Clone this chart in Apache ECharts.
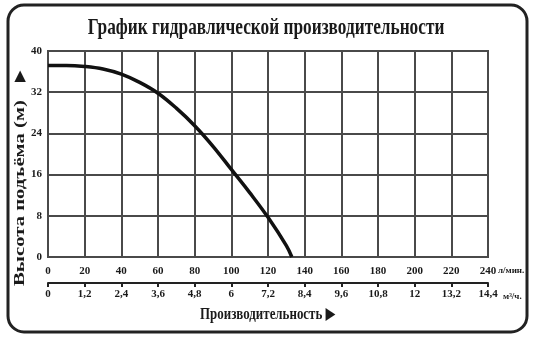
<!DOCTYPE html>
<html><head><meta charset="utf-8">
<script src="https://cdn.jsdelivr.net/npm/echarts@6/dist/echarts.min.js"></script>
<style>html,body{margin:0;padding:0;background:#fff}#c{width:534px;height:344px}</style>
</head><body><div id="c"></div>
<script>
// Data
const titleText = 'График гидравлической производительности';
const yAxisTitle = 'Высота подъёма (м)';
const xAxisTitle = 'Производительность';
const unitLpm = 'л/мин.';
const unitM3h = 'м³/ч.';
const flowLpm = [0, 10, 20, 30, 40, 50, 60, 70, 80, 90, 100, 110, 120, 130, 133];
const headM   = [37.2, 37.2, 37.0, 36.5, 35.5, 33.9, 31.8, 28.9, 25.5, 21.5, 17.0, 12.5, 7.7, 2.2, 0];
const lpmTicks = [0, 20, 40, 60, 80, 100, 120, 140, 160, 180, 200, 220, 240];
const m3hTicks = ['0', '1,2', '2,4', '3,6', '4,8', '6', '7,2', '8,4', '9,6', '10,8', '12', '13,2', '14,4'];
const headTicks = [0, 8, 16, 24, 32, 40];

const FONT = '"Liberation Serif", "DejaVu Serif", serif';
const INK = '#1a1a1a';
const GRID = '#4a4a4a';

const chart = echarts.init(document.getElementById('c'), null, {renderer: 'canvas'});
const lblStyle = {fontFamily: FONT, fontWeight: 'bold', fontSize: 11, color: INK};

chart.setOption({
  backgroundColor: '#ffffff',
  animation: false,
  grid: {left: 48, right: 46, top: 51, bottom: 87, show: true, borderColor: GRID, borderWidth: 2},
  xAxis: [
    {
      type: 'value', min: lpmTicks[0], max: lpmTicks[lpmTicks.length - 1], interval: lpmTicks[1] - lpmTicks[0],
      position: 'bottom',
      axisLine: {show: true, lineStyle: {color: GRID, width: 2}},
      axisTick: {show: false},
      splitLine: {show: true, lineStyle: {color: GRID, width: 2}},
      axisLabel: Object.assign({margin: 9, formatter: v => String(v)}, lblStyle)
    },
    {
      type: 'value', min: lpmTicks[0], max: lpmTicks[lpmTicks.length - 1], interval: lpmTicks[1] - lpmTicks[0],
      position: 'bottom', offset: 26,
      axisLine: {show: true, lineStyle: {color: '#222', width: 2}},
      axisTick: {show: true, length: 4, lineStyle: {color: '#222', width: 2}},
      splitLine: {show: false},
      axisLabel: Object.assign({margin: 6, formatter: v => m3hTicks[lpmTicks.indexOf(v)]}, lblStyle)
    }
  ],
  yAxis: {
    type: 'value', min: headTicks[0], max: headTicks[headTicks.length - 1], interval: headTicks[1] - headTicks[0],
    axisLine: {show: true, lineStyle: {color: GRID, width: 2}},
    axisTick: {show: false},
    splitLine: {show: true, lineStyle: {color: GRID, width: 2}},
    axisLabel: Object.assign({margin: 6}, lblStyle)
  },
  series: [{
    type: 'line', xAxisIndex: 0, smooth: 0.4, showSymbol: false,
    data: flowLpm.map((x, i) => [x, headM[i]]),
    lineStyle: {color: '#111', width: 3.5}
  }],
  graphic: [
    {type: 'rect', shape: {x: 8, y: 5, width: 519, height: 327, r: 16}, style: {fill: 'none', stroke: '#222', lineWidth: 3}, z: -1},
    {type: 'text', x: 266, y: 28, scaleX: 0.72, style: {text: titleText, font: 'bold 24px ' + FONT, fill: INK, textAlign: 'center', textVerticalAlign: 'middle'}},
    {type: 'text', x: 498, y: 271, style: {text: unitLpm, font: 'bold 9px ' + FONT, fill: INK, textAlign: 'left', textVerticalAlign: 'middle'}},
    {type: 'text', x: 503, y: 297, style: {text: unitM3h, font: 'bold 9px ' + FONT, fill: INK, textAlign: 'left', textVerticalAlign: 'middle'}},
    {type: 'text', x: 200, y: 315, scaleX: 0.76, style: {text: xAxisTitle + ' ▶', font: 'bold 17px ' + FONT, fill: INK, textAlign: 'left', textVerticalAlign: 'middle'}},
    {type: 'text', x: 20, y: 286, rotation: Math.PI / 2, scaleX: 1.38, style: {text: yAxisTitle, font: 'bold 15px ' + FONT, fill: INK, textAlign: 'left', textVerticalAlign: 'middle'}},
    {type: 'text', x: 20, y: 82, rotation: Math.PI / 2, style: {text: '▶', font: 'bold 15px ' + FONT, fill: INK, textAlign: 'left', textVerticalAlign: 'middle'}}
  ]
});
</script>
</body></html>
